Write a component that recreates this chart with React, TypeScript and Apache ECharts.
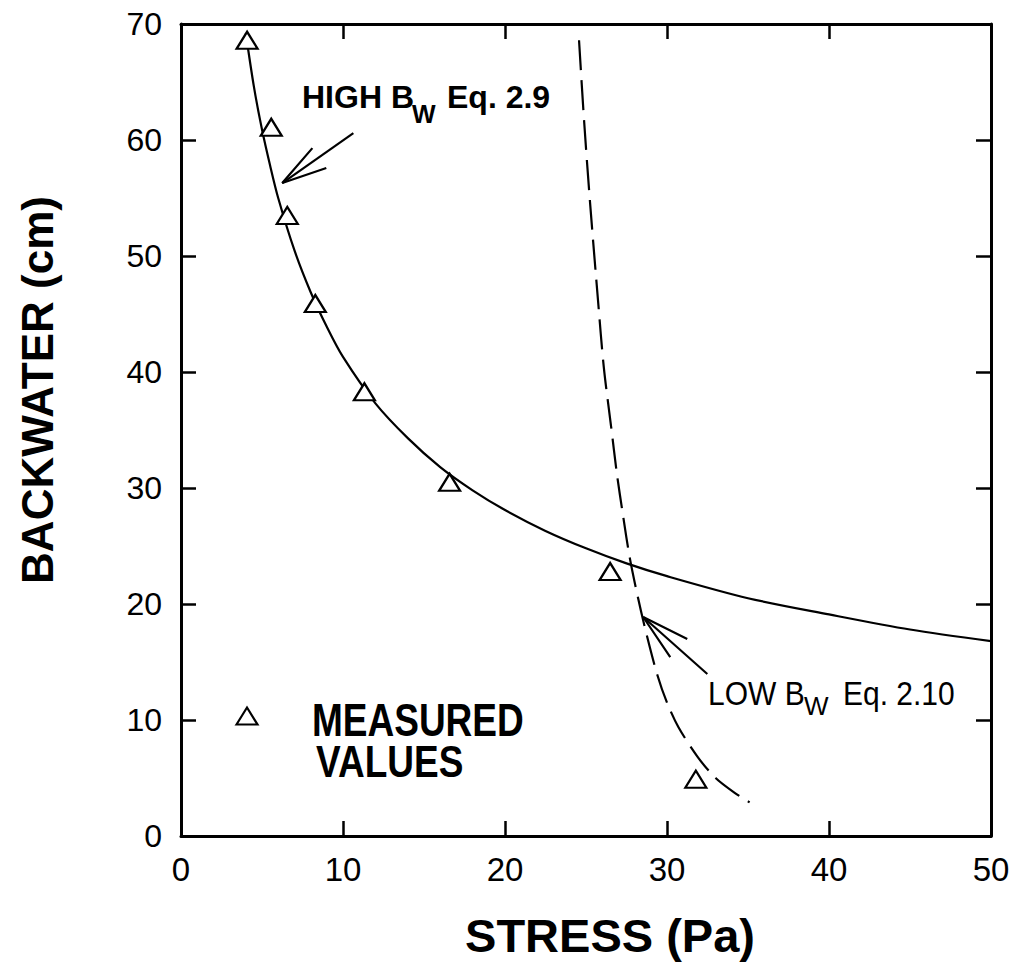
import React, { useEffect, useRef } from "react";
import * as echarts from "echarts";

const FONT = '"Liberation Sans", Arial, Helvetica, sans-serif';

// Axis ticks
const stressTicks = [0, 10, 20, 30, 40, 50];
const backwaterTicks = [0, 10, 20, 30, 40, 50, 60, 70];

// Measured backwater versus stress
const measuredStress = [4.08, 5.57, 6.56, 8.29, 11.32, 16.58, 26.49, 31.78];
const measuredBackwater = [68.6, 61.1, 53.5, 45.9, 38.3, 30.5, 22.8, 4.9];

// High backwater relation (Eq. 2.9)
const highStress = [4.0, 4.5, 5, 5.5, 6, 7, 8, 9, 10, 12, 14, 16, 18, 20, 22.5, 25, 27.5, 30, 35, 40, 45, 50];
const highBackwater = [69.2, 64.6, 60.9, 57.8, 55.0, 50.5, 46.9, 43.9, 41.3, 37.3, 34.3, 31.8, 29.8, 28.1, 26.3, 24.8, 23.5, 22.4, 20.5, 19.1, 17.8, 16.8];

// Low backwater relation (Eq. 2.10)
const lowStress = [24.57, 24.88, 25.25, 25.74, 26.1, 26.55, 26.9, 27.3, 27.7, 28.2, 28.7, 29.4, 30.0, 30.7, 31.9, 33.0, 34.2, 35.1];
const lowBackwater = [68.6, 61.7, 54.6, 46.2, 40.4, 35.3, 31.3, 27.5, 24.0, 20.6, 17.6, 13.9, 11.5, 9.4, 6.8, 5.0, 3.7, 2.9];

// Annotation arrows: [stress, backwater] for shaft start, tip and the two barbs
const highArrowShaft = [[10.64, 60.6], [6.25, 56.29]];
const highArrowHead = [[8.11, 59.3], [6.25, 56.29], [8.97, 57.59]];
const lowArrowShaft = [[32.49, 13.97], [28.53, 18.88]];
const lowArrowHead = [[31.25, 16.98], [28.53, 18.88], [30.2, 15.43]];

const pairs = (xs: number[], ys: number[]) => xs.map((x, i) => [x, ys[i]]);

export default function App() {
  const ref = useRef<HTMLDivElement>(null);

  useEffect(() => {
    const chart = echarts.init(ref.current!, null, { renderer: "svg" });

    const axisLine = { onZero: false, lineStyle: { color: "#000", width: 3 } };
    const axisTick = { inside: true, length: 15, lineStyle: { color: "#000", width: 2.5 } };
    const xBase = {
      type: "value",
      min: stressTicks[0],
      max: stressTicks[stressTicks.length - 1],
      interval: stressTicks[1] - stressTicks[0],
      axisLine,
      axisTick,
      splitLine: { show: false },
    };
    const yBase = {
      type: "value",
      min: backwaterTicks[0],
      max: backwaterTicks[backwaterTicks.length - 1],
      interval: backwaterTicks[1] - backwaterTicks[0],
      axisLine,
      axisTick,
      splitLine: { show: false },
    };
    const arrowLine = (name: string, data: number[][]) => ({
      type: "line",
      name,
      data,
      showSymbol: false,
      symbol: "none",
      silent: true,
      lineStyle: { color: "#000", width: 2.2 },
      z: 3,
    });

    chart.setOption({
      animation: false,
      backgroundColor: "#fff",
      grid: { left: 181, right: 22, top: 24, bottom: 135 },
      xAxis: [
        {
          ...xBase,
          position: "bottom",
          name: "STRESS (Pa)",
          nameLocation: "middle",
          nameGap: 76,
          nameTextStyle: {
            fontFamily: FONT,
            fontWeight: "bold",
            fontSize: 47,
            color: "#000",
            padding: [0, 0, 0, 48],
          },
          axisLabel: { fontFamily: FONT, fontSize: 33, color: "#000", margin: 17 },
        },
        { ...xBase, position: "top", axisLabel: { show: false } },
      ],
      yAxis: [
        {
          ...yBase,
          position: "left",
          name: "BACKWATER (cm)",
          nameLocation: "middle",
          nameGap: 122,
          nameTextStyle: {
            fontFamily: FONT,
            fontWeight: "bold",
            fontSize: 44,
            color: "#000",
            padding: [0, 0, 0, 80],
          },
          axisLabel: { fontFamily: FONT, fontSize: 32, color: "#000", margin: 19 },
        },
        { ...yBase, position: "right", axisLabel: { show: false } },
      ],
      series: [
        {
          type: "line",
          name: "HIGH BW Eq. 2.9",
          data: pairs(highStress, highBackwater),
          smooth: 0.3,
          showSymbol: false,
          symbol: "none",
          lineStyle: { color: "#000", width: 2.2 },
          z: 2,
        },
        {
          type: "line",
          name: "LOW BW Eq. 2.10",
          data: pairs(lowStress, lowBackwater),
          smooth: 0.3,
          showSymbol: false,
          symbol: "none",
          lineStyle: { color: "#000", width: 2.2, type: [30, 10] },
          z: 2,
        },
        arrowLine("high-arrow-shaft", highArrowShaft),
        arrowLine("high-arrow-head", highArrowHead),
        arrowLine("low-arrow-shaft", lowArrowShaft),
        arrowLine("low-arrow-head", lowArrowHead),
        {
          type: "scatter",
          name: "MEASURED VALUES",
          data: pairs(measuredStress, measuredBackwater),
          symbol: "triangle",
          symbolSize: [21, 17],
          itemStyle: { color: "#fff", borderColor: "#000", borderWidth: 2.2, opacity: 1 },
          z: 5,
        },
      ],
      graphic: [
        // Eq. 2.9 label
        {
          type: "text",
          x: 302,
          y: 97,
          style: { text: "HIGH B", font: `bold 32px ${FONT}`, fill: "#000", align: "left", verticalAlign: "middle" },
        },
        {
          type: "text",
          x: 412,
          y: 114,
          style: { text: "W", font: `bold 25px ${FONT}`, fill: "#000", align: "left", verticalAlign: "middle" },
        },
        {
          type: "text",
          x: 447,
          y: 97,
          style: { text: "Eq. 2.9", font: `bold 32px ${FONT}`, fill: "#000", align: "left", verticalAlign: "middle" },
        },
        // Eq. 2.10 label
        {
          type: "text",
          x: 708,
          y: 694,
          scaleY: 1.08,
          style: { text: "LOW B", font: `30px ${FONT}`, fill: "#000", align: "left", verticalAlign: "middle" },
        },
        {
          type: "text",
          x: 804,
          y: 706,
          style: { text: "W", font: `26px ${FONT}`, fill: "#000", align: "left", verticalAlign: "middle" },
        },
        {
          type: "text",
          x: 843,
          y: 694,
          scaleY: 1.08,
          style: { text: "Eq. 2.10", font: `30px ${FONT}`, fill: "#000", align: "left", verticalAlign: "middle" },
        },
        // Key for the measured values
        {
          type: "polygon",
          shape: { points: [[236.5, 724.5], [247, 707.5], [257.5, 724.5]] },
          style: { fill: "#fff", stroke: "#000", lineWidth: 2.2 },
        },
        {
          type: "text",
          x: 312,
          y: 720,
          scaleY: 1.25,
          style: { text: "MEASURED", font: `bold 37px ${FONT}`, fill: "#000", align: "left", verticalAlign: "middle" },
        },
        {
          type: "text",
          x: 316,
          y: 762,
          scaleY: 1.2,
          style: { text: "VALUES", font: `bold 37px ${FONT}`, fill: "#000", align: "left", verticalAlign: "middle" },
        },
      ],
    });

    return () => chart.dispose();
  }, []);

  return (
    <div
      ref={ref}
      style={{ position: "fixed", left: 0, top: 0, width: 1013, height: 971, background: "#fff" }}
    />
  );
}
